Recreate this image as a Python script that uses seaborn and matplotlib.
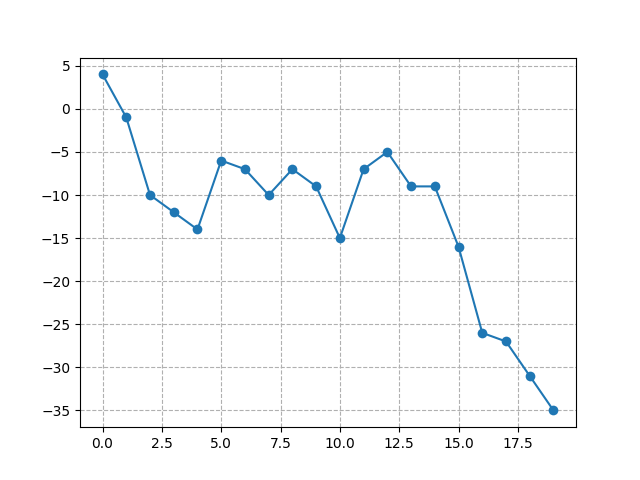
import matplotlib
matplotlib.use('Agg')
import matplotlib.pyplot as plt
import seaborn as sns
import pandas as pd

# Step index and walk values
steps = list(range(20))
values = [4, -1, -10, -12, -14, -6, -7, -10, -7, -9,
          -15, -7, -5, -9, -9, -16, -26, -27, -31, -35]

df = pd.DataFrame({'step': steps, 'value': values})

fig, ax = plt.subplots(figsize=(6.4, 4.8), dpi=100)

sns.lineplot(x='step', y='value', data=df, marker='o', markersize=7,
             markeredgewidth=0, color='#1f77b4', ax=ax)

ax.grid(True, linestyle='--', color='#b0b0b0')
ax.set_xlabel('')
ax.set_ylabel('')

plt.savefig('out.png')
